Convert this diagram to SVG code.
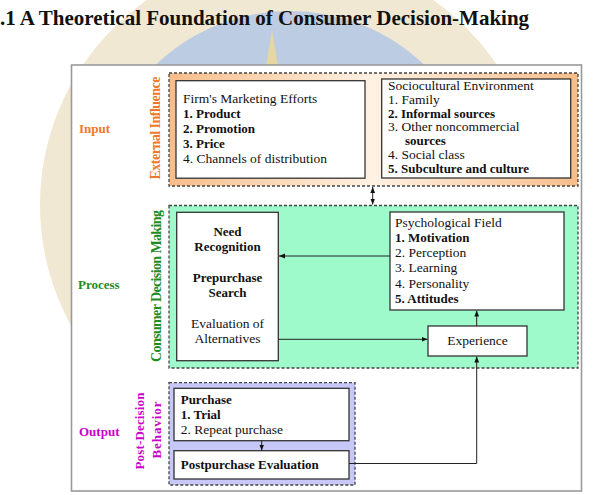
<svg xmlns="http://www.w3.org/2000/svg" width="594" height="495" viewBox="0 0 594 495">
<defs>
<style>
.t{font-family:"Liberation Serif","Times New Roman",serif;font-size:13.5px;fill:#111}
.b{font-weight:bold;font-size:13px}
.c{text-anchor:middle}
.box{fill:#fff;stroke:#333;stroke-width:1.3}
.grp{stroke:#444;stroke-width:1.3;stroke-dasharray:3 2}
.lab{font-family:"Liberation Serif","Times New Roman",serif;font-weight:bold;font-size:13px}
.ln{fill:none;stroke:#222;stroke-width:1}
</style>
<linearGradient id="og" x1="0" y1="0" x2="1" y2="0">
<stop offset="0" stop-color="#f7bd8a"/>
<stop offset="0.5" stop-color="#fff1e3"/>
<stop offset="1" stop-color="#f7bd8a"/>
</linearGradient>
<marker id="ah" viewBox="0 0 10 10" refX="10" refY="5" markerWidth="6" markerHeight="6" orient="auto-start-reverse" markerUnits="userSpaceOnUse">
<path d="M0,1 L10,5 L0,9 Z" fill="#111"/>
</marker>
</defs>

<g id="watermark">
<circle cx="290" cy="205" r="222" fill="#bccce3" stroke="#f1e8d3" stroke-width="56"/>
<polygon points="272,30 266,66 278,66" fill="#e6d6a2"/>
</g>

<text class="t" x="0" y="25" style="font-size:21px;font-weight:bold">.1 A Theoretical Foundation of Consumer Decision-Making</text>

<rect id="frame" x="71.5" y="65" width="510" height="426" fill="#fff" stroke="#9a9a9a" stroke-width="1.6"/>

<g id="input-label"><text class="lab" x="79" y="133" fill="#f07828">Input</text></g>
<g id="process-label"><text class="lab" x="78" y="289" fill="#1e8c1e">Process</text></g>
<g id="output-label"><text class="lab" x="79" y="436" fill="#cc00cc">Output</text></g>

<g id="external-influence">
<rect class="grp" x="169" y="73" width="409" height="113" fill="url(#og)"/>
<text class="lab" transform="translate(160,128) rotate(-90)" text-anchor="middle" fill="#f07828" textLength="103" style="font-size:14px">External Influence</text>
</g>

<g id="consumer-decision-making">
<rect class="grp" x="169" y="205.5" width="409" height="162.5" fill="#9ef9cb"/>
<text class="lab" transform="translate(161,286) rotate(-90)" text-anchor="middle" fill="#1e8c1e" textLength="152" style="font-size:14px">Consumer Decision Making</text>
</g>

<g id="post-decision-behavior">
<rect class="grp" x="169" y="382.7" width="186" height="102.3" fill="#c8c8f8"/>
<text class="lab" transform="translate(144,431) rotate(-90)" text-anchor="middle" fill="#cc00cc" textLength="77">Post-Decision</text>
<text class="lab" transform="translate(161,430) rotate(-90)" text-anchor="middle" fill="#cc00cc" textLength="57">Behavior</text>
</g>

<g id="firms-marketing-efforts">
<rect class="box" x="176" y="80.7" width="189" height="97.5"/>
<text class="t" x="183" y="102.5">Firm's Marketing Efforts</text>
<text class="t b" x="183" y="117.6">1. Product</text>
<text class="t b" x="183" y="132.7">2. Promotion</text>
<text class="t b" x="183" y="147.8">3. Price</text>
<text class="t" x="183" y="162.9">4. Channels of distribution</text>
</g>

<g id="sociocultural-environment">
<rect class="box" x="381.7" y="79" width="189" height="99"/>
<text class="t" x="388" y="90">Sociocultural Environment</text>
<text class="t" x="388" y="103.8">1. Family</text>
<text class="t b" x="388" y="117.6">2. Informal sources</text>
<text class="t" x="388" y="131.4">3. Other noncommercial</text>
<text class="t b" x="405" y="145.2">sources</text>
<text class="t" x="388" y="159">4. Social class</text>
<text class="t b" x="388" y="172.8">5. Subculture and culture</text>
</g>

<g id="decision-stages">
<rect class="box" x="176.7" y="212.3" width="101.6" height="148.4"/>
<text class="t b c" x="227.5" y="235.7">Need</text>
<text class="t b c" x="227.5" y="251">Recognition</text>
<text class="t b c" x="227.5" y="281.7">Prepurchase</text>
<text class="t b c" x="227.5" y="297.3">Search</text>
<text class="t c" x="227.5" y="327.7">Evaluation of</text>
<text class="t c" x="227.5" y="343.3">Alternatives</text>
</g>

<g id="psychological-field">
<rect class="box" x="390" y="212" width="174" height="98"/>
<text class="t" x="395" y="226.7">Psychological Field</text>
<text class="t b" x="395" y="241.9">1. Motivation</text>
<text class="t" x="395" y="257.1">2. Perception</text>
<text class="t" x="395" y="272.3">3. Learning</text>
<text class="t" x="395" y="287.5">4. Personality</text>
<text class="t b" x="395" y="302.7">5. Attitudes</text>
</g>

<g id="experience">
<rect class="box" x="428" y="326" width="99" height="30"/>
<text class="t c" x="477.5" y="345">Experience</text>
</g>

<g id="purchase">
<rect class="box" x="174" y="388.3" width="175" height="52.4"/>
<text class="t b" x="180.7" y="404">Purchase</text>
<text class="t b" x="180.7" y="419.3">1. Trial</text>
<text class="t" x="180.7" y="434">2. Repeat purchase</text>
</g>

<g id="postpurchase-evaluation">
<rect class="box" x="174" y="450.7" width="175" height="28.3"/>
<text class="t b" x="180.7" y="469.3">Postpurchase Evaluation</text>
</g>

<g id="connectors">
<line class="ln" x1="372.7" y1="187" x2="372.7" y2="204.5" marker-start="url(#ah)" marker-end="url(#ah)"/>
<line class="ln" x1="390" y1="256" x2="279" y2="256" marker-end="url(#ah)"/>
<line class="ln" x1="278.3" y1="339.3" x2="427.5" y2="339.3" marker-end="url(#ah)"/>
<line class="ln" x1="476.7" y1="326" x2="476.7" y2="310.5" marker-end="url(#ah)"/>
<line class="ln" x1="261.7" y1="440.7" x2="261.7" y2="450.5" marker-end="url(#ah)"/>
<polyline class="ln" points="349,463.5 476.7,463.5 476.7,356.5" marker-end="url(#ah)"/>
</g>
</svg>
